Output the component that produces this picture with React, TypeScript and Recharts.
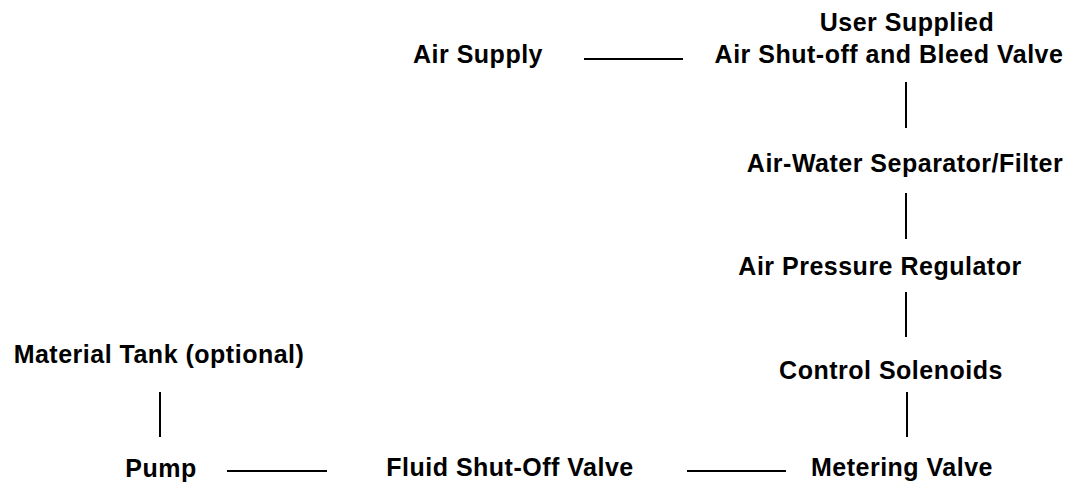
import { ScatterChart, Scatter, XAxis, YAxis } from "recharts"

// diagram space: x 0..1078 left to right, y 0..483 top to bottom (text baselines)
const labelText = [
  "User Supplied",
  "Air Shut-off and Bleed Valve",
  "Air Supply",
  "Air-Water Separator/Filter",
  "Air Pressure Regulator",
  "Control Solenoids",
  "Metering Valve",
  "Fluid Shut-Off Valve",
  "Pump",
  "Material Tank (optional)",
]
const labelX = [907, 889, 478, 905, 880, 891, 902, 510, 161, 159]
const labelY = [31, 63, 63, 172, 275, 379, 476, 476, 477, 363]

// connectors: [x1, y1, x2, y2]
const connectors = [
  [584, 59, 683, 59],
  [906, 82, 906, 128],
  [906, 193, 906, 239],
  [906, 292, 906, 337],
  [907, 392, 907, 437],
  [687, 471, 786, 471],
  [227, 471, 327, 471],
  [160, 392, 160, 437],
]

const labels = labelText.map((name, i) => ({ name, x: labelX[i], y: labelY[i] }))

const Label = (props: any) => {
  const { cx, cy, payload } = props
  return (
    <text
      x={cx}
      y={cy}
      textAnchor="middle"
      fontFamily="'Liberation Sans', Arial, Helvetica, sans-serif"
      fontWeight="bold"
      fontSize={25}
      letterSpacing={0.5}
      fill="#000"
    >
      {payload.name}
    </text>
  )
}

const NoDot = () => <g />

export default function App() {
  return (
    <div style={{ position: "absolute", left: 0, top: 0, background: "#fff" }}>
      <ScatterChart width={1078} height={483} margin={{ top: 0, right: 0, bottom: 0, left: 0 }}>
        <XAxis type="number" dataKey="x" domain={[0, 1078]} hide />
        <YAxis type="number" dataKey="y" domain={[0, 483]} reversed hide />
        {connectors.map((c, i) => (
          <Scatter
            key={`edge-${i}`}
            data={[
              { x: c[0], y: c[1] },
              { x: c[2], y: c[3] },
            ]}
            line={{ stroke: "#000", strokeWidth: 2 }}
            shape={<NoDot />}
            isAnimationActive={false}
          />
        ))}
        <Scatter data={labels} shape={<Label />} isAnimationActive={false} />
      </ScatterChart>
    </div>
  )
}
